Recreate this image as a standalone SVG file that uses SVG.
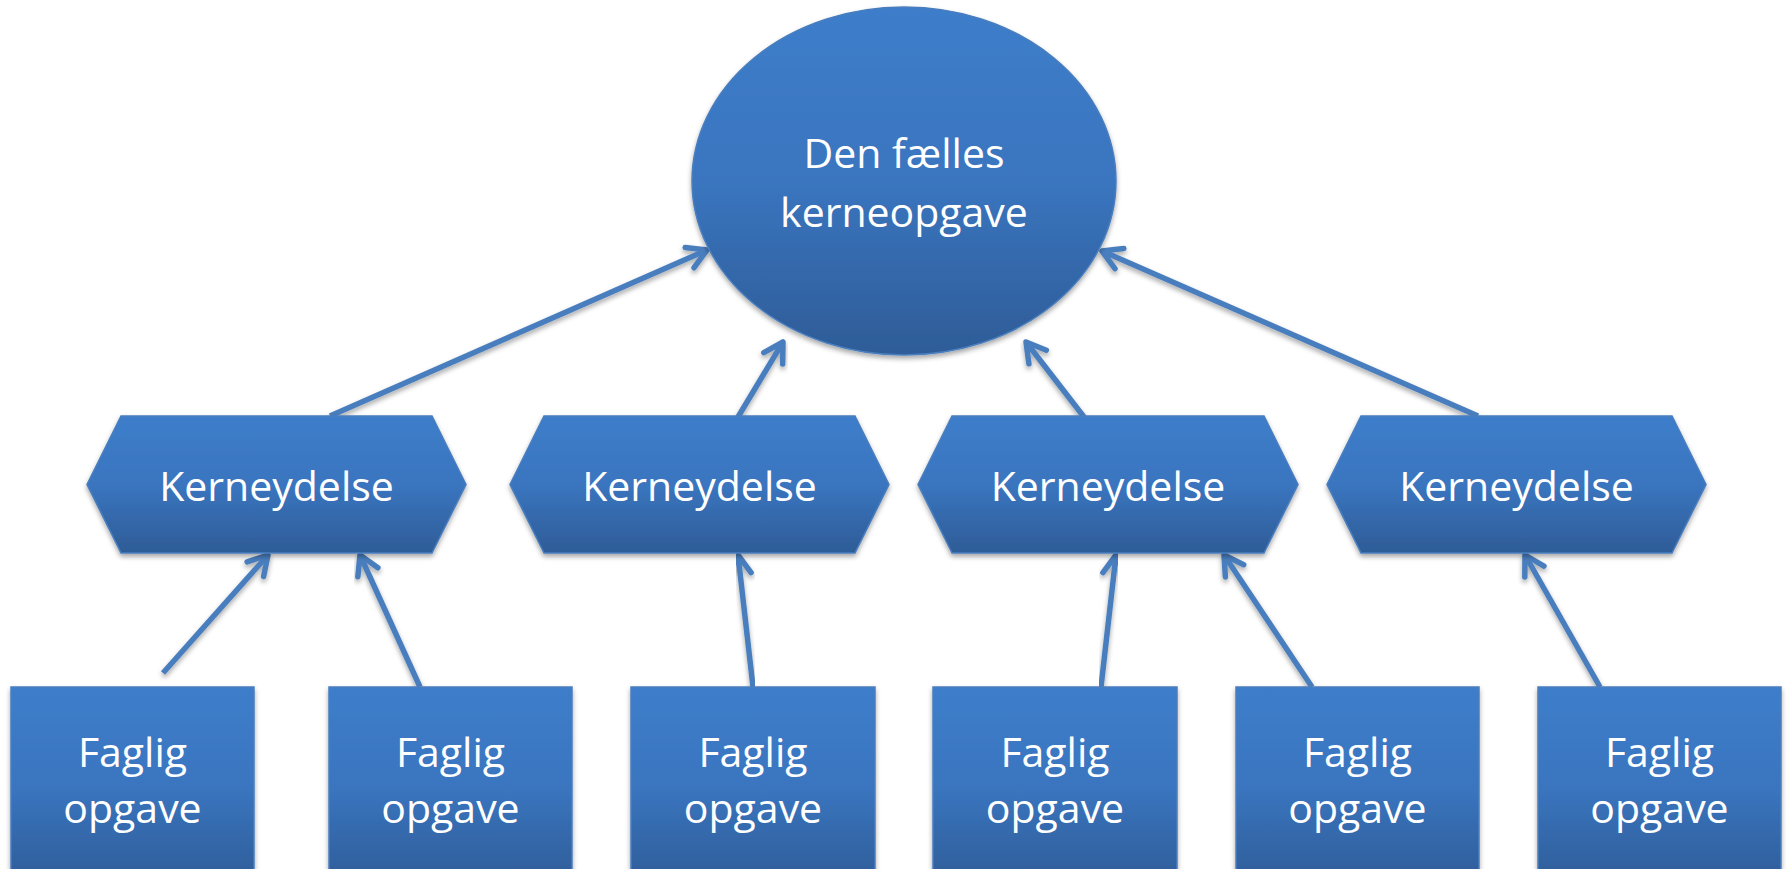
<svg xmlns="http://www.w3.org/2000/svg" width="1787" height="869" viewBox="0 0 1787 869">
<defs>
<linearGradient id="g" x1="0" y1="0" x2="0" y2="1">
<stop offset="0" stop-color="#3D7DCA"/>
<stop offset="0.5" stop-color="#3A75BF"/>
<stop offset="1" stop-color="#2E5C97"/>
</linearGradient>
<filter id="sh" x="-10%" y="-10%" width="120%" height="130%">
<feDropShadow dx="0" dy="3" stdDeviation="2.5" flood-color="#000" flood-opacity="0.35"/>
</filter>
<marker id="ah" markerUnits="userSpaceOnUse" markerWidth="40" markerHeight="40" viewBox="-30 -20 40 40" refX="0" refY="0" orient="auto">
<path d="M-19,-11 L0,0 L-19,11" fill="none" stroke="#4A7EBE" stroke-width="5.5" stroke-linecap="round" stroke-linejoin="round"/>
</marker>
</defs>
<style>
.n{fill:url(#g);stroke:#4A7EBE;stroke-width:1.5;filter:url(#sh)}
.t{font-family:"Open Sans","Liberation Sans",sans-serif;font-size:41px;fill:#fff;text-anchor:middle}
.c line{stroke:#4A7EBE;stroke-width:5.5;marker-end:url(#ah);filter:url(#sh)}
</style>
<rect width="1787" height="869" fill="#fff"/>
<g id="connectors" class="c">
<line x1="330" y1="416" x2="707" y2="250"/>
<line x1="738" y1="417" x2="783" y2="342"/>
<line x1="1084" y1="417" x2="1026" y2="342"/>
<line x1="1478" y1="416" x2="1102" y2="251"/>
<line x1="163" y1="673" x2="268" y2="555"/>
<line x1="420" y1="687" x2="360" y2="555"/>
<line x1="753" y1="687" x2="738" y2="555"/>
<line x1="1101" y1="687" x2="1116" y2="555"/>
<line x1="1312" y1="687" x2="1224" y2="555"/>
<line x1="1600" y1="687" x2="1525" y2="555"/>
</g>
<g id="kerneopgave">
<ellipse class="n" cx="904" cy="181" rx="212" ry="174"/>
<text class="t" x="904" y="168">Den fælles</text>
<text class="t" x="904" y="227">kerneopgave</text>
</g>
<g id="kerneydelse1">
<polygon class="n" points="121,416 432,416 466,484.5 432,553 121,553 87,484.5"/>
<text class="t" x="276.5" y="501">Kerneydelse</text>
</g>
<g id="kerneydelse2">
<polygon class="n" points="544,416 855,416 889,484.5 855,553 544,553 510,484.5"/>
<text class="t" x="699.5" y="501">Kerneydelse</text>
</g>
<g id="kerneydelse3">
<polygon class="n" points="952,416 1264,416 1298,484.5 1264,553 952,553 918,484.5"/>
<text class="t" x="1108" y="501">Kerneydelse</text>
</g>
<g id="kerneydelse4">
<polygon class="n" points="1361,416 1672,416 1706,484.5 1672,553 1361,553 1327,484.5"/>
<text class="t" x="1516.5" y="501">Kerneydelse</text>
</g>
<g id="faglig1">
<rect class="n" x="11" y="687" width="243" height="200"/>
<text class="t" x="132.5" y="767">Faglig</text>
<text class="t" x="132.5" y="823">opgave</text>
</g>
<g id="faglig2">
<rect class="n" x="329" y="687" width="243" height="200"/>
<text class="t" x="450.5" y="767">Faglig</text>
<text class="t" x="450.5" y="823">opgave</text>
</g>
<g id="faglig3">
<rect class="n" x="631" y="687" width="244" height="200"/>
<text class="t" x="753" y="767">Faglig</text>
<text class="t" x="753" y="823">opgave</text>
</g>
<g id="faglig4">
<rect class="n" x="933" y="687" width="244" height="200"/>
<text class="t" x="1055" y="767">Faglig</text>
<text class="t" x="1055" y="823">opgave</text>
</g>
<g id="faglig5">
<rect class="n" x="1236" y="687" width="243" height="200"/>
<text class="t" x="1357.5" y="767">Faglig</text>
<text class="t" x="1357.5" y="823">opgave</text>
</g>
<g id="faglig6">
<rect class="n" x="1538" y="687" width="243" height="200"/>
<text class="t" x="1659.5" y="767">Faglig</text>
<text class="t" x="1659.5" y="823">opgave</text>
</g>
</svg>
